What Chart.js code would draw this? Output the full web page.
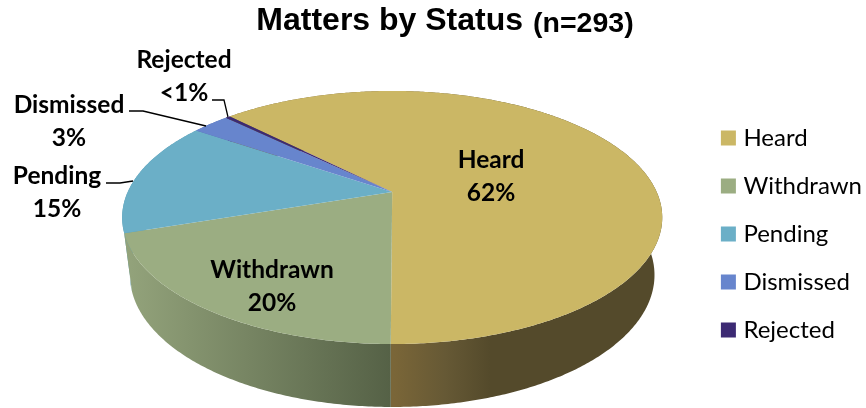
<!DOCTYPE html>
<html>
<head>
<meta charset="utf-8">
<title>Matters by Status</title>
<script src="https://cdn.jsdelivr.net/npm/chart.js@4"></script>
<style>
    html, body { margin: 0; padding: 0; background: #fff; }
    #wrap { position: relative; width: 866px; height: 408px; }
</style>
</head>
<body>
<div id="wrap"><canvas id="statusChart"></canvas></div>
<script>
const titleMain = 'Matters by Status';
const titleCount = '(n=293)';
const statuses = ['Heard', 'Withdrawn', 'Pending', 'Dismissed', 'Rejected'];
const matterCounts = [183, 58, 43, 8, 1];
const percentLabels = ['62%', '20%', '15%', '3%', '<1%'];
const sliceColors = ['#cbb765', '#9bad82', '#6bafc7', '#6785cd', '#3c2a73'];

// Where each label sits, and its leader line if it has one
const labelSpots = [
    { x: 491, y: 160 },
    { x: 272, y: 270 },
    { x: 57, y: 176, leader: [[106, 183], [120, 183], [133, 181]] },
    { x: 69, y: 105, leader: [[129, 111], [143, 111], [206, 126]] },
    { x: 184, y: 60, leader: [[212, 100], [224, 100], [228, 117]] }
];

// Rim shading, left to right across each slice
const rimShades = [
    [[394, '#7a6638'], [445, '#665935'], [490, '#544a2b'], [660, '#544a2b']],
    [[127, '#93a37b'], [392, '#556146']],
    [[120, '#5a9db3'], [200, '#5a9db3']],
    [[190, '#5570b0'], [230, '#5570b0']],
    [[225, '#2e2058'], [232, '#2e2058']]
];

// Tilted pie seen in perspective: top face and bottom face of the disc
const faceShiftX = 2.5;
const topFace = { offsetY: -10.5, s: 264.5, b: 121.4, k: 0.2016 };
const bottomFace = { offsetY: 46.1, s: 257, b: 126.7, k: 0.2 };

// Angle on the disc to a point on the page
function project(arc, face, angle) {
    const theta = angle + Math.PI / 2;
    const d = 1 + face.k * Math.cos(theta);
    return {
        x: arc.x + faceShiftX + face.s * Math.sin(theta) / d,
        y: arc.y + face.offsetY - face.b * Math.cos(theta) / d
    };
}

function arcPoints(arc, face) {
    const pts = [];
    const steps = Math.max(2, Math.ceil((arc.endAngle - arc.startAngle) / 0.01));
    for (let i = 0; i <= steps; i++) {
        pts.push(project(arc, face, arc.startAngle + (arc.endAngle - arc.startAngle) * i / steps));
    }
    return pts;
}

const pie3d = {
    id: 'pie3d',
    beforeDatasetDraw(chart, args) {
        const ctx = chart.ctx;
        const arcs = args.meta.data;

        // rims first, back slices before front ones
        [3, 4, 2, 0, 1].forEach(i => {
            const top = arcPoints(arcs[i], topFace);
            const bottom = arcPoints(arcs[i], bottomFace).reverse();
            const stops = rimShades[i];
            const x0 = stops[0][0], x1 = stops[stops.length - 1][0];
            const grad = ctx.createLinearGradient(x0, 0, x1, 0);
            stops.forEach(s => grad.addColorStop((s[0] - x0) / (x1 - x0), s[1]));
            ctx.beginPath();
            top.concat(bottom).forEach((p, n) => n ? ctx.lineTo(p.x, p.y) : ctx.moveTo(p.x, p.y));
            ctx.closePath();
            ctx.fillStyle = grad;
            ctx.fill();
        });

        // top surface
        arcs.forEach((arc, i) => {
            ctx.beginPath();
            ctx.moveTo(arc.x + faceShiftX, arc.y + topFace.offsetY);
            arcPoints(arc, topFace).forEach(p => ctx.lineTo(p.x, p.y));
            ctx.closePath();
            ctx.fillStyle = sliceColors[i];
            ctx.fill();
        });
        return false; // skip the flat pie
    }
};

const sliceLabels = {
    id: 'sliceLabels',
    afterDraw(chart) {
        const ctx = chart.ctx;
        ctx.save();

        // smaller count next to the title
        const t = chart.titleBlock;
        ctx.font = 'bold 32px "Liberation Sans"';
        const mainWidth = ctx.measureText(titleMain).width;
        const midX = (t.left + t.right) / 2;
        ctx.font = 'bold 28.5px "Liberation Sans"';
        ctx.fillStyle = '#000';
        ctx.textAlign = 'left';
        ctx.textBaseline = 'alphabetic';
        ctx.fillText(titleCount, midX + mainWidth / 2 + 10, 32);

        ctx.strokeStyle = '#000';
        ctx.lineWidth = 1.3;
        ctx.font = 'bold 24.5px Lato';
        ctx.textAlign = 'center';
        ctx.textBaseline = 'middle';
        labelSpots.forEach((spot, i) => {
            ctx.fillText(statuses[i], spot.x, spot.y);
            ctx.fillText(percentLabels[i], spot.x, spot.y + 33);
            if (spot.leader) {
                ctx.beginPath();
                spot.leader.forEach((p, n) => n ? ctx.lineTo(p[0], p[1]) : ctx.moveTo(p[0], p[1]));
                ctx.stroke();
            }
        });
        ctx.restore();
    }
};

function initChart() {
    const ctx = document.getElementById('statusChart').getContext('2d');
    return new Chart(ctx, {
        type: 'pie',
        data: {
            labels: statuses,
            datasets: [{
                data: matterCounts,
                backgroundColor: sliceColors,
                borderWidth: 0
            }]
        },
        options: {
            responsive: true,
            maintainAspectRatio: false,
            animation: false,
            rotation: -44.6,
            layout: { padding: { left: 78, right: -6, bottom: 42 } },
            plugins: {
                tooltip: { enabled: false },
                title: {
                    display: true,
                    text: titleMain,
                    fullSize: false,
                    color: '#000',
                    font: { family: '"Liberation Sans"', size: 32, weight: 'bold', lineHeight: 1.125 },
                    padding: { top: 3, bottom: 0 }
                },
                legend: {
                    position: 'right',
                    align: 'end',
                    labels: {
                        usePointStyle: true,
                        pointStyle: 'rect',
                        boxWidth: 6,
                        boxHeight: 15,
                        padding: 24,
                        color: '#000',
                        font: { family: 'Lato', size: 24 }
                    }
                }
            }
        },
        plugins: [pie3d, sliceLabels]
    });
}

initChart();
</script>
</body>
</html>
